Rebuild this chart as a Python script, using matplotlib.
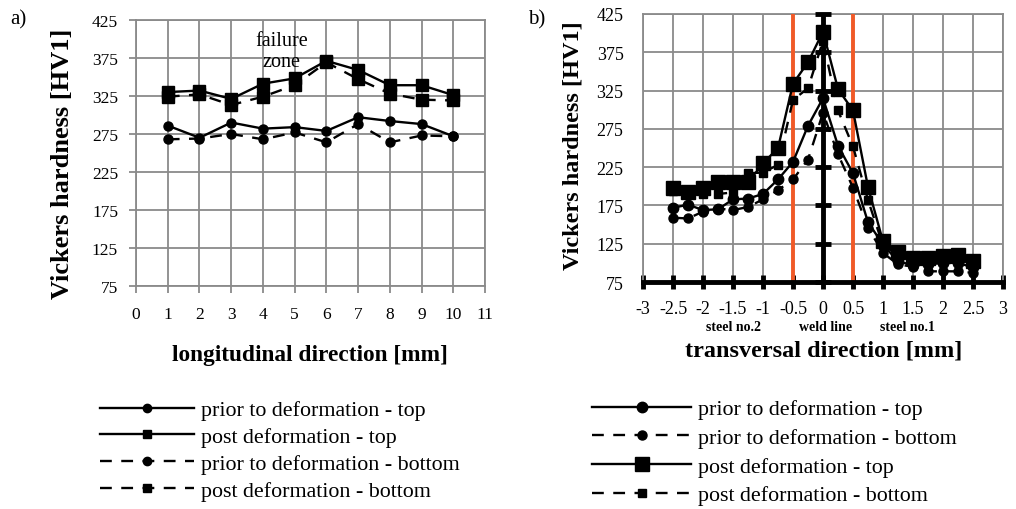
import numpy as np
import matplotlib
matplotlib.use("Agg")
import matplotlib.pyplot as plt

plt.rcParams['font.family'] = ['Liberation Serif', 'DejaVu Serif']

# a) longitudinal direction
x_long = [1, 2, 3, 4, 5, 6, 7, 8, 9, 10]
prior_top_long = [286, 270, 290, 282, 284, 279, 297, 292, 288, 272]
post_top_long = [330, 332, 321, 341, 348, 371, 359, 339, 339, 326]
prior_bot_long = [268, 269, 275, 268, 277, 264, 288, 264, 273, 272]
post_bot_long = [324, 327, 313, 324, 339, 369, 347, 328, 320, 319]

# b) transversal direction
x_trans = [-2.5, -2.25, -2.0, -1.75, -1.5, -1.25, -1.0, -0.75, -0.5, -0.25, 0.0,
           0.25, 0.5, 0.75, 1.0, 1.25, 1.5, 1.75, 2.0, 2.25, 2.5]
prior_top_tr = [172, 176, 169, 170, 183, 184, 190, 209, 232, 279, 315,
                253, 217, 153, 124, 102, 97, 98, 100, 100, 94]
prior_bot_tr = [159, 158, 167, 171, 169, 173, 183, 195, 209, 235, 296,
                242, 198, 146, 113, 98, 95, 89, 89, 89, 87]
post_top_tr = [198, 193, 198, 205, 205, 205, 230, 250, 334, 362, 402,
               327, 299, 199, 128, 114, 107, 107, 109, 110, 102]
post_bot_tr = [194, 192, 190, 190, 192, 217, 218, 228, 313, 328, 390,
               299, 252, 182, 123, 111, 102, 105, 102, 107, 98]

y_ticks = [75, 125, 175, 225, 275, 325, 375, 425]
x_ticks_long = list(range(0, 12))
x_ticks_tr = [-3, -2.5, -2, -1.5, -1, -0.5, 0, 0.5, 1, 1.5, 2, 2.5, 3]
x_tick_labels_tr = ['-3', '-2.5', '-2', '-1.5', '-1', '-0.5', '0', '0.5', '1',
                    '1.5', '2', '2.5', '3']
weld_bounds = [-0.5, 0.5]

grid_c = '#8a8a8a'
lw = 1.7

fig = plt.figure(figsize=(10.16, 5.10), dpi=100)
ax1 = fig.add_axes([0.1339, 0.4366, 0.3435, 0.5228])
ax2 = fig.add_axes([0.6329, 0.445, 0.3543, 0.5256])

# ---- panel a ----
ax1.plot(x_long, prior_top_long, '-', color='black', lw=lw, marker='o', ms=6.5,
         label='prior to deformation - top')
ax1.plot(x_long, post_top_long, '-', color='black', lw=lw, marker='s', ms=8,
         label='post deformation - top')
ax1.plot(x_long, prior_bot_long, '--', color='black', lw=lw, marker='o', ms=6.5,
         dashes=(5, 4), label='prior to deformation - bottom')
ax1.plot(x_long, post_bot_long, '--', color='black', lw=lw, marker='s', ms=8,
         dashes=(5, 4), label='post deformation - bottom')
ax1.set_xlim(0, 11)
ax1.set_ylim(75, 425)
ax1.set_xticks(x_ticks_long)
ax1.set_yticks(y_ticks)
ax1.grid(True, color=grid_c, lw=1.3)
ax1.set_axisbelow(True)
for s in ax1.spines.values():
    s.set_color(grid_c)
    s.set_linewidth(1.3)
ax1.tick_params(axis='both', colors=grid_c, labelcolor='black', labelsize=12.5,
                length=5, width=1.3)
ax1.tick_params(axis='x', pad=9)
ax1.tick_params(axis='y', pad=8)
ax1.text(4.6, 398, 'failure', ha='center', va='center', fontsize=14.5)
ax1.text(4.6, 370, 'zone', ha='center', va='center', fontsize=14.5)
ax1.set_xlabel('longitudinal direction [mm]', fontsize=16.8, fontweight='bold')
ax1.xaxis.set_label_coords(0.4986, -0.215)
ax1.set_ylabel('Vickers hardness [HV1]', fontsize=19, fontweight='bold')
ax1.yaxis.set_label_coords(-0.178, 0.462)

# ---- panel b ----
ax2.plot(x_trans, prior_top_tr, '-', color='black', lw=lw, marker='o', ms=7.5,
         label='prior to deformation - top', zorder=4)
ax2.plot(x_trans, prior_bot_tr, '--', color='black', lw=lw, marker='o', ms=6.5,
         dashes=(5, 4), label='prior to deformation - bottom', zorder=4)
ax2.plot(x_trans, post_top_tr, '-', color='black', lw=lw, marker='s', ms=9.5,
         label='post deformation - top', zorder=4)
ax2.plot(x_trans, post_bot_tr, '--', color='black', lw=lw, marker='s', ms=6,
         dashes=(5, 4), label='post deformation - bottom', zorder=4)
for xb in weld_bounds:
    ax2.axvline(xb, color='#f05a28', lw=2.8, zorder=3)
ax2.axvline(0, color='black', lw=3.5, zorder=3)
ax2.plot([0] * len(y_ticks), y_ticks, linestyle='none', marker='_', ms=11,
         mew=3.5, color='black', zorder=3, clip_on=False)
ax2.set_xlim(-3, 3)
ax2.set_ylim(75, 425)
ax2.set_xticks(x_ticks_tr)
ax2.set_xticklabels(x_tick_labels_tr)
ax2.set_yticks(y_ticks)
ax2.grid(True, color=grid_c, lw=1.3)
ax2.set_axisbelow(True)
for s in ax2.spines.values():
    s.set_color(grid_c)
    s.set_linewidth(1.3)
ax2.spines['bottom'].set_color('black')
ax2.spines['bottom'].set_linewidth(3.5)
ax2.spines['bottom'].set_zorder(5)
ax2.tick_params(axis='y', length=0, labelsize=13, pad=14)
ax2.tick_params(axis='x', direction='inout', length=10, width=3.5,
                color='black', labelsize=13, pad=8)
for xc, name in zip([-1.5, 0.05, 1.4], ['steel no.2', 'weld line', 'steel no.1']):
    ax2.text(xc, -0.165, name, transform=ax2.get_xaxis_transform(),
             ha='center', va='center', fontsize=10, fontweight='bold')
ax2.set_xlabel('transversal direction [mm]', fontsize=17.5, fontweight='bold')
ax2.xaxis.set_label_coords(0.503, -0.214)
ax2.set_ylabel('Vickers hardness [HV1]', fontsize=17.5, fontweight='bold')
ax2.yaxis.set_label_coords(-0.165, 0.511)

# panel letters
fig.text(0.010, 0.962, 'a)', fontsize=15, va='center')
fig.text(0.520, 0.962, 'b)', fontsize=15, va='center')

# legends under each panel
h1, l1 = ax1.get_legend_handles_labels()
leg1 = fig.legend(h1, l1, loc='upper left', bbox_to_anchor=(0.098, 0.214),
                  frameon=False, fontsize=15.8, handlelength=4.3,
                  handletextpad=0.3, labelspacing=0.3, borderpad=0,
                  borderaxespad=0)
for hd in leg1.legend_handles:
    hd.set_markersize(6)

h2, l2 = ax2.get_legend_handles_labels()
leg2 = fig.legend(h2, l2, loc='upper left', bbox_to_anchor=(0.583, 0.216),
                  frameon=False, fontsize=15.8, handlelength=4.5,
                  handletextpad=0.3, labelspacing=0.38, borderpad=0,
                  borderaxespad=0)

fig.savefig('out.png', dpi=100)
